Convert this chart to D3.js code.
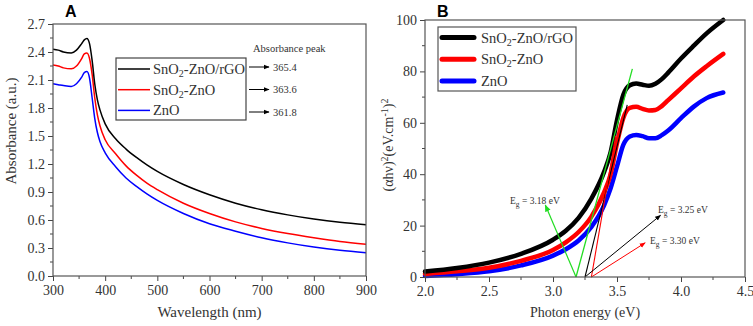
<!DOCTYPE html>
<html><head><meta charset="utf-8">
<script src="https://cdn.jsdelivr.net/npm/d3@7"></script>
<style>
body{margin:0;background:#fff;}
svg{display:block;font-family:'Liberation Serif','Times New Roman',serif;}
svg text{font-family:'Liberation Serif','Times New Roman',serif;fill:#333;}
svg text.lab{font-family:'Liberation Sans',Arial,sans-serif;font-weight:bold;fill:#000;}
</style></head>
<body><svg id="c" width="753" height="326"></svg>
<script>
// ---------- Panel A data ----------
const wavelength = [300,310,320,335,345,355,360,365,370,375,380,385,390,400,420,440,460,480,500,550,600,650,700,750,800,850,900];
const absRGO  = [2.43,2.42,2.40,2.39,2.42,2.49,2.53,2.545,2.49,2.31,2.06,1.89,1.78,1.63,1.47,1.36,1.27,1.19,1.12,0.98,0.87,0.78,0.71,0.655,0.61,0.575,0.55];
const absSnZn = [2.26,2.25,2.23,2.22,2.25,2.33,2.38,2.39,2.33,2.16,1.91,1.73,1.61,1.46,1.31,1.18,1.08,0.995,0.925,0.78,0.67,0.58,0.51,0.455,0.41,0.37,0.34];
const absZnO  = [2.06,2.05,2.04,2.03,2.06,2.13,2.18,2.19,2.12,1.91,1.69,1.54,1.44,1.32,1.17,1.05,0.96,0.88,0.81,0.67,0.56,0.48,0.41,0.355,0.31,0.275,0.25];
const seriesNames = ["SnO2-ZnO/rGO","SnO2-ZnO","ZnO"];
const peakValues = ["365.4","363.6","361.8"];
const xTicksA = [300,400,500,600,700,800,900];
const yTicksA = [0.0,0.3,0.6,0.9,1.2,1.5,1.8,2.1,2.4,2.7];

// ---------- Panel B data ----------
const energy = [2.0,2.25,2.5,2.75,3.0,3.1,3.2,3.3,3.4,3.45,3.5,3.55,3.6,3.65,3.7,3.75,3.8,3.85,3.9,4.0,4.1,4.2,4.33];
const tRGO  = [2.1,3.5,5.6,9.0,14.5,18.0,23.0,30.5,41,48.5,61,71,74.6,75.3,74.8,74.4,75.2,77,79.5,85,90,94.8,100];
const tSnZn = [1.2,2.2,3.6,6.3,10.5,13.5,17.5,23.5,33,40,52,62,65.8,66.2,65.4,64.8,65,66.5,68.8,73.4,78,82,86.8];
const tZnO  = [0.4,1.1,2.2,4.5,8.3,10.8,14.2,19.5,28,34.5,43,51.5,54.7,55.3,54.8,54,54,55.2,57,61.8,66.3,69.6,71.8];
const xTicksB = [2.0,2.5,3.0,3.5,4.0,4.5];
const yTicksB = [0,20,40,60,80,100];
const bandGaps = ["3.18","3.25","3.30"];
const tangentGreen = [[3.18,0],[3.62,81]];
const tangentBlack = [[3.25,0],[3.58,67]];
const tangentRed   = [[3.30,0],[3.49,55]];
const arrowGreen = [[3.18,0],[2.94,28]];
const arrowBlack = [[3.25,0],[3.84,24]];
const arrowRed   = [[3.30,0],[3.72,13.3]];

const colors = ["#000000","#ff0000","#0000ff"];
const SERIF = "'Liberation Serif','Times New Roman',serif";
const svg = d3.select("#c");

const defs = svg.append("defs");
[["g","#22dd22"],["k","#000"],["r","#ff0000"],["k2","#000"]].forEach(([id,c])=>{
  defs.append("marker").attr("id","ar"+id).attr("viewBox","0 0 10 10").attr("refX",9).attr("refY",5)
    .attr("markerWidth",6).attr("markerHeight",6).attr("orient","auto")
    .append("path").attr("d","M0,1L10,5L0,9z").attr("fill",c);
});

function axes(g, x, y, xt, yt, xminor, yminor, fmtx, fmty, W, H){
  const c="#444";
  g.append("g").selectAll("line").data(xminor).join("line")
    .attr("x1",d=>x(d)).attr("x2",d=>x(d)).attr("y1",H).attr("y2",H+3).attr("stroke",c);
  g.append("g").selectAll("line").data(yminor).join("line")
    .attr("y1",d=>y(d)).attr("y2",d=>y(d)).attr("x1",0).attr("x2",-3).attr("stroke",c);
  const ax = g.append("g").attr("transform",`translate(0,${H})`)
    .call(d3.axisBottom(x).tickValues(xt).tickFormat(fmtx).tickSize(5).tickPadding(4));
  const ay = g.append("g").call(d3.axisLeft(y).tickValues(yt).tickFormat(fmty).tickSize(5).tickPadding(3));
  [ax,ay].forEach(a=>{
    a.attr("font-family",SERIF).attr("font-size",14);
    a.select(".domain").remove();
    a.selectAll("line").attr("stroke",c);
    a.selectAll("text").attr("font-family",SERIF).style("font-family",SERIF).style("font-size","14px").attr("fill","#333");
  });
  g.append("rect").attr("width",W).attr("height",H).attr("fill","none").attr("stroke","#555").attr("stroke-width",1.2);
}

function chemLabel(t, n){
  if(n.startsWith("SnO2")){
    t.append("tspan").text("SnO");
    t.append("tspan").attr("dy",3).style("font-size","10px").text("2");
    t.append("tspan").attr("dy",-3).text(n.slice(4));
  } else t.text(n);
}

// ================= Panel A =================
{
  const L=53,T=24,W=313,H=252;
  const g = svg.append("g").attr("transform",`translate(${L},${T})`);
  const x = d3.scaleLinear().domain([300,900]).range([0,W]);
  const y = d3.scaleLinear().domain([0,2.7]).range([H,0]);
  const line = d3.line().x((d,i)=>x(wavelength[i])).y(d=>y(d)).curve(d3.curveMonotoneX);
  [absZnO,absSnZn,absRGO].forEach((s,k)=>{
    g.append("path").attr("d",line(s)).attr("fill","none").attr("stroke",colors[2-k]).attr("stroke-width",1.5);
  });
  axes(g,x,y,xTicksA,yTicksA,d3.range(350,900,100),d3.range(0.15,2.7,0.3),d3.format("d"),d3.format(".1f"),W,H);
  g.append("text").attr("x",x(600)).attr("y",H+41).attr("text-anchor","middle").style("font-size","15px").text("Wavelength (nm)");
  g.append("text").attr("transform",`translate(${-37},${107}) rotate(-90)`).attr("text-anchor","middle").style("font-size","15px").text("Absorbance (a.u.)");
  const lg = svg.append("g").attr("transform","translate(116,58)");
  lg.append("rect").attr("width",130).attr("height",62).attr("fill","#fff").attr("stroke","#444").attr("stroke-width",1.2);
  seriesNames.forEach((n,i)=>{
    const yy = 11+i*20.7;
    lg.append("line").attr("x1",2).attr("x2",34).attr("y1",yy).attr("y2",yy).attr("stroke",colors[i]).attr("stroke-width",1.5);
    chemLabel(lg.append("text").attr("x",37).attr("y",yy+5).style("font-size","14.5px"), n);
    const ay = 67+i*22.5;
    svg.append("line").attr("x1",249).attr("x2",269).attr("y1",ay).attr("y2",ay).attr("stroke","#000").attr("stroke-width",1).attr("marker-end","url(#ark2)");
    svg.append("text").attr("x",273).attr("y",ay+3.5).style("font-size","10.5px").text(peakValues[i]);
  });
  svg.append("text").attr("x",253).attr("y",52).style("font-size","10.5px").text("Absorbance peak");
  svg.append("text").attr("class","lab").attr("x",65).attr("y",17).style("font-size","16px").text("A");
}

// ================= Panel B =================
{
  const L=425,T=20,W=320,H=257;
  const g = svg.append("g").attr("transform",`translate(${L},${T})`);
  const x = d3.scaleLinear().domain([2.0,4.5]).range([0,W]);
  const y = d3.scaleLinear().domain([0,100]).range([H,0]);
  const line = d3.line().x((d,i)=>x(energy[i])).y(d=>y(d)).curve(d3.curveMonotoneX);
  [tZnO,tSnZn,tRGO].forEach((s,k)=>{
    g.append("path").attr("d",line(s)).attr("fill","none").attr("stroke",colors[2-k]).attr("stroke-width",4.5).attr("stroke-linecap","round");
  });
  const seg = d3.line().x(d=>x(d[0])).y(d=>y(d[1]));
  g.append("path").attr("d",seg(tangentGreen)).attr("stroke","#22dd22").attr("stroke-width",1.3).attr("fill","none");
  g.append("path").attr("d",seg(tangentBlack)).attr("stroke","#000").attr("stroke-width",1.1).attr("fill","none");
  g.append("path").attr("d",seg(tangentRed)).attr("stroke","#ff0000").attr("stroke-width",1.1).attr("fill","none");
  g.append("path").attr("d",seg(arrowGreen)).attr("stroke","#22dd22").attr("stroke-width",1.2).attr("fill","none").attr("marker-end","url(#arg)");
  g.append("path").attr("d",seg(arrowBlack)).attr("stroke","#000").attr("stroke-width",1).attr("fill","none").attr("marker-end","url(#ark)");
  g.append("path").attr("d",seg(arrowRed)).attr("stroke","#ff0000").attr("stroke-width",1).attr("fill","none").attr("marker-end","url(#arr)");
  axes(g,x,y,xTicksB,yTicksB,d3.range(2.25,4.5,0.5),d3.range(10,100,20),d3.format(".1f"),d3.format("d"),W,H);
  g.append("text").attr("x",x(3.25)).attr("y",H+40).attr("text-anchor","middle").style("font-size","14px").text("Photon energy (eV)");
  const yl = g.append("text").attr("transform",`translate(${-32},${125}) rotate(-90)`).attr("text-anchor","middle").style("font-size","14px");
  yl.append("tspan").text("(\u03B1h\u03BD)");
  yl.append("tspan").attr("dy",-5).style("font-size","10px").text("2");
  yl.append("tspan").attr("dy",5).text("(eV.cm");
  yl.append("tspan").attr("dy",-5).style("font-size","10px").text("-1");
  yl.append("tspan").attr("dy",5).text(")");
  yl.append("tspan").attr("dy",-5).style("font-size","10px").text("2");
  const egPos = [[510,204],[658,213],[650,244]];
  bandGaps.forEach((v,i)=>{
    const t = svg.append("text").attr("x",egPos[i][0]).attr("y",egPos[i][1]).style("font-size","9.5px");
    t.append("tspan").text("E");
    t.append("tspan").attr("dy",3).style("font-size","7.5px").text("g");
    t.append("tspan").attr("dy",-3).text(" = "+v+" eV");
  });
  const lg = svg.append("g").attr("transform","translate(438,27)");
  lg.append("rect").attr("width",138).attr("height",64).attr("fill","#fff").attr("stroke","#555").attr("stroke-width",1.2);
  seriesNames.forEach((n,i)=>{
    const yy = 10.5+i*21.7;
    lg.append("line").attr("x1",4).attr("x2",36).attr("y1",yy).attr("y2",yy).attr("stroke",colors[i]).attr("stroke-width",5).attr("stroke-linecap","round");
    chemLabel(lg.append("text").attr("x",43).attr("y",yy+5).style("font-size","14.5px"), n);
  });
  svg.append("text").attr("class","lab").attr("x",437).attr("y",17).style("font-size","16px").text("B");
}
</script></body></html>
